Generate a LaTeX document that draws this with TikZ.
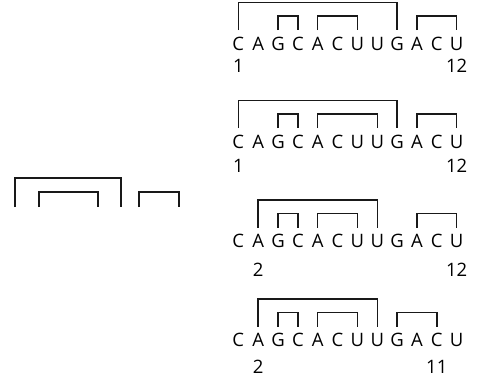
\documentclass[tikz,border=0pt]{standalone}
\usepackage{fontspec}
\setmainfont{Open Sans}
\begin{document}
\begin{tikzpicture}[x=1pt,y=-1pt,
  base/.style={inner sep=0pt,anchor=base,font=\fontsize{18.5}{18.5}\selectfont,text height=13.2pt,text depth=0pt},
  num/.style={inner sep=0pt,anchor=base,font=\fontsize{18.5}{18.5}\selectfont},
  arc/.style={draw=black!90,line width=1.4pt}]
\useasboundingbox (0,0) rectangle (482,383);

% sequence rows: letters, index labels
\newcommand\seqrow[2]{%
  \foreach \l [count=\i] in {C,A,G,C,A,C,U,U,G,A,C,U}
    \node[base] (#1n\i) at ({238.3+19.85*(\i-1)},#2) {\l};}
\seqrow{a}{50}
\seqrow{b}{148}
\seqrow{c}{247.5}
\seqrow{d}{346.5}

% base-pair brackets: \pairarc{row}{i}{j}{height}
\newcommand\pairarc[4]{%
  \draw[arc] ([yshift=6.5pt]#1n#2.north) -- ++(0,-#4) -| ([yshift=6.5pt]#1n#3.north);}
\pairarc{a}{1}{9}{27.5}
\pairarc{a}{3}{4}{14}
\pairarc{a}{5}{7}{14}
\pairarc{a}{10}{12}{14}

\pairarc{b}{1}{9}{27.5}
\pairarc{b}{3}{4}{14}
\pairarc{b}{5}{8}{14}
\pairarc{b}{10}{12}{14}

\pairarc{c}{2}{8}{27.5}
\pairarc{c}{3}{4}{14}
\pairarc{c}{5}{7}{14}
\pairarc{c}{10}{12}{14}

\pairarc{d}{2}{8}{27.5}
\pairarc{d}{3}{4}{14}
\pairarc{d}{5}{7}{14}
\pairarc{d}{9}{11}{14}

% position numbers
\node[num] (la) at (an1.base |- 0,72) {1};
\node[num] (ra) at (an12.base |- 0,72) {12};
\node[num] (lb) at (bn1.base |- 0,172) {1};
\node[num] (rb) at (bn12.base |- 0,172) {12};
\node[num] (lc) at (cn2.base |- 0,276) {2};
\node[num] (rc) at (cn12.base |- 0,276) {12};
\node[num] (ld) at (dn2.base |- 0,373) {2};
\node[num] (rd) at (dn11.base |- 0,373) {11};

% bracket pattern without sequence
\draw[arc] (15,207) |- (121,178) -- (121,207);
\draw[arc] (39,207) |- (98,192) -- (98,207);
\draw[arc] (139,207) |- (179,192) -- (179,207);
\end{tikzpicture}
\end{document}
